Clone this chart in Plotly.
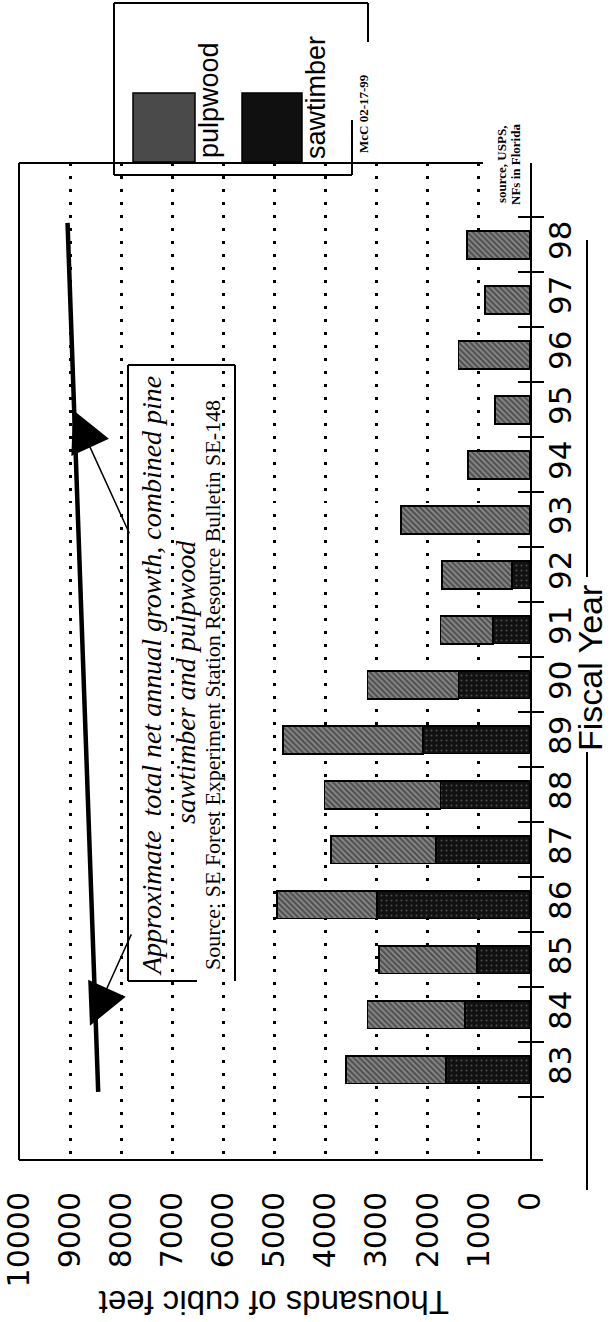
import plotly.graph_objects as go

# ---------------- data ----------------
years = [83, 84, 85, 86, 87, 88, 89, 90, 91, 92, 93, 94, 95, 96, 97, 98]
year_labels = [str(y) for y in years]
sawtimber = [1640, 1270, 1040, 2990, 1840, 1750, 2100, 1400, 720, 360, 0, 0, 0, 0, 0, 0]
total = [3600, 3180, 2960, 4950, 3900, 4020, 4830, 3180, 1750, 1720, 2530, 1220, 690, 1400, 880, 1240]
pulpwood = [t - s for t, s in zip(total, sawtimber)]
growth_years = [82.6, 98.4]
growth_values = [8450, 9050]
value_ticks = [0, 1000, 2000, 3000, 4000, 5000, 6000, 7000, 8000, 9000, 10000]
value_tick_labels = [str(v) for v in value_ticks]
boundaries = [y - 0.5 for y in years] + [years[-1] + 0.5]

# ---------------- layout helpers (page pixels -> paper) ----------------
FW, FH = 610, 1322
L, R, T, B = 19, 530, 163, 1160     # plot area in page pixels
W, H = R - L, B - T
def px(x):
    return (x - L) / W
def py(y):
    return (B - y) / H

YR = [81.36, 99.49]
SANS = "Liberation Sans, Arial, sans-serif"
WIDE = "DejaVu Sans, Verdana, sans-serif"
SERIF = "Liberation Serif, Times New Roman, serif"

fig = go.Figure()
fig.add_trace(go.Bar(
    y=years, x=sawtimber, orientation="h", width=0.5, name="sawtimber",
    marker=dict(color="#111111", line=dict(color="black", width=1.5),
                pattern=dict(shape=".", fgcolor="#8a8a8a", size=5, solidity=0.12)),
))
fig.add_trace(go.Bar(
    y=years, x=pulpwood, orientation="h", width=0.5, name="pulpwood",
    marker=dict(color="#8e8e8e", line=dict(color="black", width=1.8),
                pattern=dict(shape="\\", fgcolor="#141414", size=4, solidity=0.6)),
))
fig.add_trace(go.Scatter(
    y=growth_years, x=growth_values, mode="lines", yaxis="y2",
    line=dict(color="black", width=4.5), showlegend=False,
))

shapes = []
def line(x0, y0, x1, y1, w=2):
    shapes.append(dict(type="line", xref="paper", yref="paper",
                       x0=px(x0), y0=py(y0), x1=px(x1), y1=py(y1),
                       line=dict(color="black", width=w)))
# plot frame
line(L, T, L, B)
line(L, T, 483, T)
line(L, B, 543, B)
# Fiscal Year rule (interrupted by the title)
line(587, 240, 587, 577)
line(587, 752, 587, 1190)
# legend box
line(114, 3, 114, 175)
line(114, 3, 368, 3)
line(368, 3, 368, 42)
line(114, 175, 352, 175)
line(352, 120, 352, 175)
# annotation box (open at lower right)
for (a, b, c, d) in [(197, 981, 128, 981), (128, 981, 128, 365), (128, 365, 235, 365), (235, 365, 235, 981)]:
    line(a, b, c, d, 2)
# legend swatches
shapes.append(dict(type="rect", xref="paper", yref="paper",
                   x0=px(133), x1=px(195), y0=py(93), y1=py(162),
                   fillcolor="#4a4a4a", line=dict(color="black", width=1.5)))
shapes.append(dict(type="rect", xref="paper", yref="paper",
                   x0=px(242), x1=px(302), y0=py(93), y1=py(162),
                   fillcolor="#101010", line=dict(color="black", width=1.5)))

ann = []
def text(x, y, s, size, family=SANS, angle=-90, **kw):
    ann.append(dict(xref="paper", yref="paper", x=px(x), y=py(y), text=s,
                    showarrow=False, textangle=angle, xanchor="center", yanchor="middle",
                    font=dict(size=size, family=family, color="black"), **kw))

text(209, 100, "pulpwood", 27)
text(316, 98, "sawtimber", 27)
text(363, 114, "<b>McC 02-17-99</b>", 13, SERIF)
text(502, 165, "<b>source, USPS,</b>", 13, SERIF)
text(516, 165, "<b>NFs in Florida</b>", 13, SERIF)
text(151, 676, "<i>Approximate&nbsp; total net annual growth, combined pine</i>", 28, SERIF)
text(185, 682, "<i>sawtimber and pulpwood</i>", 28, SERIF)
text(212, 685, "Source: SE Forest Experiment Station Resource Bulletin SE-148", 22, SERIF)
text(274, 1303, "Thousands of cubic feet", 33, SANS, angle=180)
text(590, 668, "Fiscal Year", 34, SANS)

# arrows from box to growth line
for tip, tail in [((8943, 95.0), (7828, 92.73)), ((8611, 83.8), (7789, 85.49))]:
    ann.append(dict(xref="x", yref="y", x=tip[0], y=tip[1], axref="x", ayref="y",
                    ax=tail[0], ay=tail[1], text="", showarrow=True,
                    arrowhead=2, arrowsize=5.5, arrowwidth=1.5, arrowcolor="black"))

fig.update_layout(
    width=FW, height=FH, margin=dict(l=L, r=FW - R, t=T, b=FH - B, autoexpand=False),
    paper_bgcolor="white", plot_bgcolor="white", barmode="stack",
    showlegend=False, shapes=shapes, annotations=ann,
    xaxis=dict(range=[10000, 0], tickmode="array", tickvals=value_ticks,
               ticktext=value_tick_labels, tickangle=-90, ticks="", ticklabelstandoff=25,
               ticklabeloverflow="allow", automargin=False,
               tickfont=dict(size=30, family=WIDE, color="black"),
               showgrid=True, gridcolor="black", gridwidth=2.5, griddash="2.5px,10.5px",
               zeroline=False, showline=False),
    yaxis=dict(range=YR, side="right", anchor="x", tickmode="array", tickvals=years,
               ticktext=year_labels, tickangle=-90, ticks="", ticklabelstandoff=2,
               ticklabeloverflow="allow", automargin=False,
               tickfont=dict(size=31, family=WIDE, color="black"),
               minor=dict(tickmode="array", tickvals=boundaries, ticks="outside",
                          ticklen=12, tickwidth=2, tickcolor="black", showgrid=False),
               showgrid=False, zeroline=False, showline=True, linecolor="black", linewidth=2),
    yaxis2=dict(range=YR, overlaying="y", side="right", anchor="x", tickmode="array",
                tickvals=boundaries, ticks="inside", ticklen=12, tickwidth=2, tickcolor="black",
                showticklabels=False, showgrid=False, zeroline=False, showline=False,
                automargin=False),
)

# remove the default 8px page margin so the figure starts at the window's corner
fig.write_html("out.html", config={"displayModeBar": False},
               post_script="document.body.style.margin='0px';")
